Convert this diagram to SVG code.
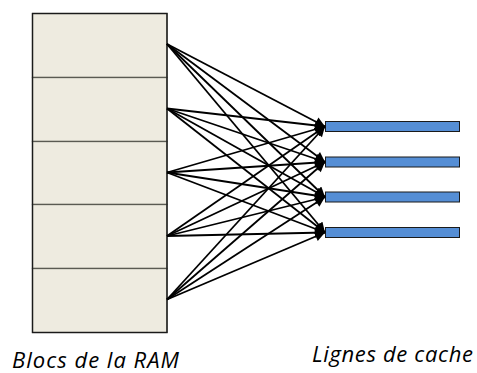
<svg xmlns="http://www.w3.org/2000/svg" width="477" height="373" viewBox="0 0 477 373">
<style>
.blk{fill:#EEEBE0;stroke:#5a5a52;stroke-width:1.3}
.bar{fill:#558ED5;stroke:#1a1a1a;stroke-width:1}
.lbl{font-family:"Open Sans","Liberation Sans",sans-serif;font-style:italic;font-size:22px;fill:#000}
#connectors line{stroke:#000;stroke-width:1.8;marker-end:url(#ah)}
</style>
<defs>
<marker id="ah" markerUnits="userSpaceOnUse" viewBox="0 0 10 10" refX="10" refY="5" markerWidth="11" markerHeight="10" orient="auto">
<path d="M0,0 L10,5 L0,10 z" fill="#000"/>
</marker>
</defs>
<rect x="0" y="0" width="477" height="373" fill="#fff"/>
<g id="ram">
<g id="ram1"><rect class="blk" x="32.5" y="13.5" width="134.5" height="64"/></g>
<g id="ram2"><rect class="blk" x="32.5" y="77.5" width="134.5" height="64"/></g>
<g id="ram3"><rect class="blk" x="32.5" y="141.5" width="134.5" height="63"/></g>
<g id="ram4"><rect class="blk" x="32.5" y="204.5" width="134.5" height="64"/></g>
<g id="ram5"><rect class="blk" x="32.5" y="268.5" width="134.5" height="64"/></g>
<rect x="32.5" y="13.5" width="134.5" height="319" fill="none" stroke="#1a1a1a" stroke-width="1.3"/>
</g>
<g id="cache">
<g id="line1"><rect class="bar" x="325.5" y="121.5" width="134" height="10"/></g>
<g id="line2"><rect class="bar" x="325.5" y="157" width="134" height="10"/></g>
<g id="line3"><rect class="bar" x="325.5" y="192" width="134" height="10"/></g>
<g id="line4"><rect class="bar" x="325.5" y="227.5" width="134" height="10"/></g>
</g>
<g id="connectors">
<line x1="167" y1="44" x2="325" y2="126.5"/>
<line x1="167" y1="44" x2="325" y2="162"/>
<line x1="167" y1="44" x2="325" y2="197"/>
<line x1="167" y1="44" x2="325" y2="232.5"/>
<line x1="167" y1="108.5" x2="325" y2="126.5"/>
<line x1="167" y1="108.5" x2="325" y2="162"/>
<line x1="167" y1="108.5" x2="325" y2="197"/>
<line x1="167" y1="108.5" x2="325" y2="232.5"/>
<line x1="167" y1="172.5" x2="325" y2="126.5"/>
<line x1="167" y1="172.5" x2="325" y2="162"/>
<line x1="167" y1="172.5" x2="325" y2="197"/>
<line x1="167" y1="172.5" x2="325" y2="232.5"/>
<line x1="167" y1="236" x2="325" y2="126.5"/>
<line x1="167" y1="236" x2="325" y2="162"/>
<line x1="167" y1="236" x2="325" y2="197"/>
<line x1="167" y1="236" x2="325" y2="232.5"/>
<line x1="167" y1="299.5" x2="325" y2="126.5"/>
<line x1="167" y1="299.5" x2="325" y2="162"/>
<line x1="167" y1="299.5" x2="325" y2="197"/>
<line x1="167" y1="299.5" x2="325" y2="232.5"/>
</g>
<g id="labels">
<text class="lbl" x="12" y="368" textLength="167" lengthAdjust="spacing">Blocs de la RAM</text>
<text class="lbl" x="312" y="362" textLength="161" lengthAdjust="spacing">Lignes de cache</text>
</g>
</svg>
